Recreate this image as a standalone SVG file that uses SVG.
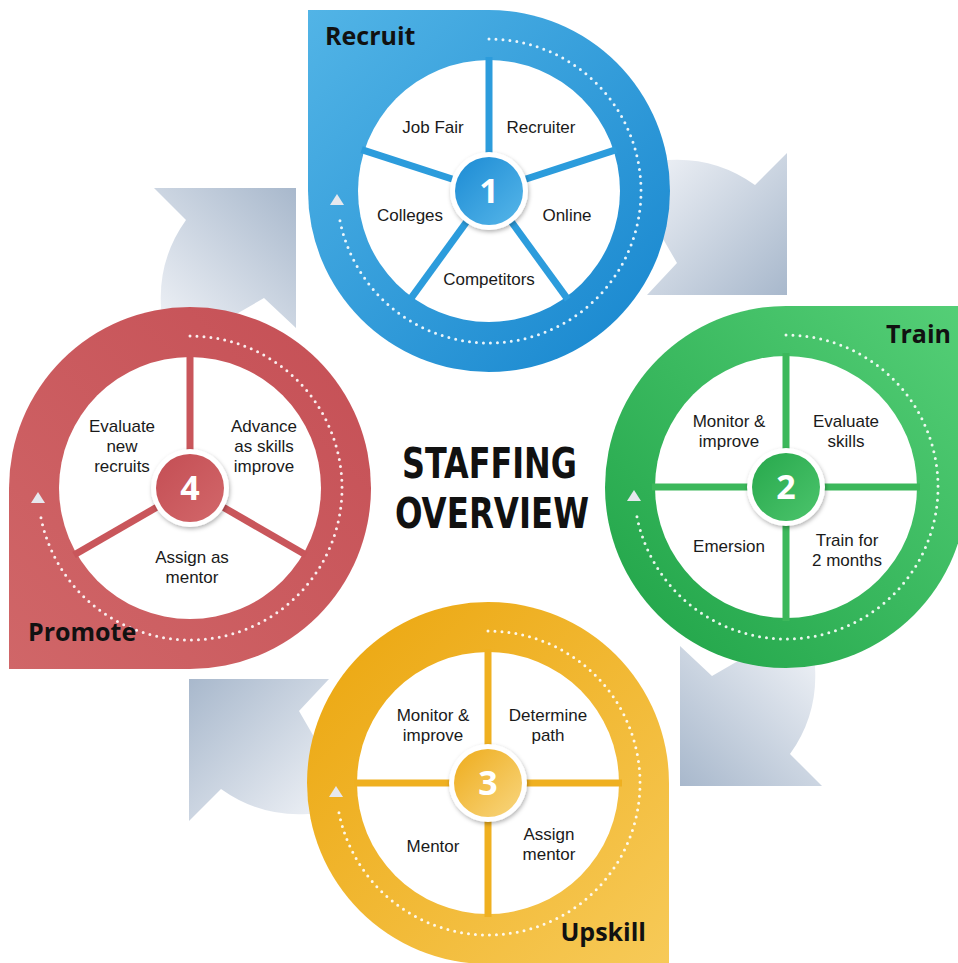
<svg xmlns="http://www.w3.org/2000/svg" xmlns:xlink="http://www.w3.org/1999/xlink" width="958" height="963" viewBox="0 0 958 963">
<defs>
<linearGradient id="gGray" gradientUnits="userSpaceOnUse" x1="650" y1="160" x2="787" y2="295">
<stop offset="0" stop-color="#eef1f6"/><stop offset="1" stop-color="#a8b8cc"/>
</linearGradient>
<linearGradient id="gBlue" x1="0" y1="0" x2="1" y2="1">
<stop offset="0" stop-color="#52b4e6"/><stop offset="1" stop-color="#1585ce"/>
</linearGradient>
<linearGradient id="gGreen" x1="1" y1="0" x2="0" y2="1">
<stop offset="0" stop-color="#55cf77"/><stop offset="1" stop-color="#1ea246"/>
</linearGradient>
<linearGradient id="gYellow" x1="0" y1="0" x2="1" y2="1">
<stop offset="0" stop-color="#eba50c"/><stop offset="1" stop-color="#f7ca58"/>
</linearGradient>
<linearGradient id="gRed" x1="1" y1="0" x2="0" y2="1">
<stop offset="0" stop-color="#c54f55"/><stop offset="1" stop-color="#d06668"/>
</linearGradient>
<linearGradient id="cBlue" x1="0" y1="0" x2="1" y2="1">
<stop offset="0" stop-color="#1c8bd4"/><stop offset="1" stop-color="#56b6e9"/>
</linearGradient>
<linearGradient id="cGreen" x1="0" y1="0" x2="1" y2="1">
<stop offset="0" stop-color="#27a84c"/><stop offset="1" stop-color="#4cc46c"/>
</linearGradient>
<linearGradient id="cYellow" x1="0" y1="0" x2="1" y2="1">
<stop offset="0" stop-color="#eeac1c"/><stop offset="1" stop-color="#f8d67f"/>
</linearGradient>
<linearGradient id="cRed" x1="0" y1="0" x2="1" y2="1">
<stop offset="0" stop-color="#c44e54"/><stop offset="1" stop-color="#d2676a"/>
</linearGradient>
<filter id="sh" x="-30%" y="-30%" width="160%" height="160%">
<feDropShadow dx="1" dy="2" stdDeviation="2" flood-color="#000" flood-opacity="0.3"/>
</filter>
<path id="garrow" d="M 787 153 L 787 295 L 647 295 L 677 263 L 655 225 L 630 170 L 640 158 L 668 160 A 135 135 0 0 1 755 185 Z" fill="url(#gGray)"/>
<style>
.t{font-family:"Liberation Sans",Arial,sans-serif;font-size:17px;fill:#1a1a1a;text-anchor:middle}
.lbl{font-family:"Open Sans","Noto Sans",sans-serif;font-size:25px;font-weight:bold;fill:#111}
.num{font-family:"Open Sans","Noto Sans",sans-serif;font-size:34px;font-weight:bold;fill:#fff;text-anchor:middle}
.dots{fill:none;stroke:#fff;stroke-width:3;stroke-dasharray:0 7;stroke-linecap:round;opacity:0.9}
.tri{fill:#e6e8ee}
.disk{fill:#fff}
.ring{fill:#fff}
.title{font-family:"DejaVu Sans Condensed","DejaVu Sans",sans-serif;font-weight:bold;font-size:42.5px;fill:#111;text-anchor:middle}
</style>
</defs>

<g id="connectors">
<use xlink:href="#garrow"/>
<use xlink:href="#garrow" transform="rotate(90 488 487)"/>
<use xlink:href="#garrow" transform="rotate(180 488 487)"/>
<use xlink:href="#garrow" transform="rotate(270 488 487)"/>
</g>

<g id="node-recruit">
<path d="M 308 10 L 489 10 A 181 181 0 1 1 308 191 Z" fill="url(#gBlue)"/>
<path class="dots" d="M 489 39 A 152 152 0 1 1 338.9 214.8"/>
<polygon class="tri" points="337,194 330,205 344,205"/>
<circle class="disk" cx="489" cy="191" r="131"/>
<g stroke="#2c9cdc" stroke-width="7">
<line x1="489" y1="191" x2="489" y2="57"/>
<line x1="489" y1="191" x2="616.4" y2="149.6"/>
<line x1="489" y1="191" x2="567.8" y2="299.4"/>
<line x1="489" y1="191" x2="410.2" y2="299.4"/>
<line x1="489" y1="191" x2="361.6" y2="149.6"/>
</g>
<circle class="ring" cx="489" cy="191" r="39" filter="url(#sh)"/>
<circle cx="489" cy="191" r="34" fill="url(#cBlue)"/>
<text class="num" x="489" y="203">1</text>
<text class="lbl" x="325" y="45">Recruit</text>
<text class="t" x="433" y="133">Job Fair</text>
<text class="t" x="541" y="133">Recruiter</text>
<text class="t" x="410" y="221">Colleges</text>
<text class="t" x="567" y="221">Online</text>
<text class="t" x="489" y="285">Competitors</text>
</g>

<g id="node-train">
<path d="M 967 306 L 967 487 A 181 181 0 1 1 786 306 Z" fill="url(#gGreen)"/>
<path class="dots" d="M 786 335 A 152 152 0 1 1 635.9 510.8"/>
<polygon class="tri" points="634,490 627,501 641,501"/>
<circle class="disk" cx="786" cy="487" r="131"/>
<g stroke="#3cb85b" stroke-width="7">
<line x1="786" y1="353" x2="786" y2="621"/>
<line x1="652" y1="487" x2="920" y2="487"/>
</g>
<circle class="ring" cx="786" cy="487" r="39" filter="url(#sh)"/>
<circle cx="786" cy="487" r="34" fill="url(#cGreen)"/>
<text class="num" x="786" y="499">2</text>
<text class="lbl" x="951" y="343" text-anchor="end">Train</text>
<text class="t" x="729" y="427">Monitor &amp;</text>
<text class="t" x="729" y="447">improve</text>
<text class="t" x="846" y="427">Evaluate</text>
<text class="t" x="846" y="447">skills</text>
<text class="t" x="729" y="552">Emersion</text>
<text class="t" x="847" y="546">Train for</text>
<text class="t" x="847" y="566">2 months</text>
</g>

<g id="node-upskill">
<path d="M 669 964 L 488 964 A 181 181 0 1 1 669 783 Z" fill="url(#gYellow)"/>
<path class="dots" d="M 488 631 A 152 152 0 1 1 337.9 806.8"/>
<polygon class="tri" points="336,786 329,797 343,797"/>
<circle class="disk" cx="488" cy="783" r="131"/>
<g stroke="#efb020" stroke-width="7">
<line x1="488" y1="649" x2="488" y2="917"/>
<line x1="354" y1="783" x2="622" y2="783"/>
</g>
<circle class="ring" cx="488" cy="783" r="39" filter="url(#sh)"/>
<circle cx="488" cy="783" r="34" fill="url(#cYellow)"/>
<text class="num" x="488" y="795">3</text>
<text class="lbl" x="646" y="941" text-anchor="end">Upskill</text>
<text class="t" x="433" y="721">Monitor &amp;</text>
<text class="t" x="433" y="741">improve</text>
<text class="t" x="548" y="721">Determine</text>
<text class="t" x="548" y="741">path</text>
<text class="t" x="433" y="852">Mentor</text>
<text class="t" x="549" y="840">Assign</text>
<text class="t" x="549" y="860">mentor</text>
</g>

<g id="node-promote">
<path d="M 9 669 L 9 488 A 181 181 0 1 1 190 669 Z" fill="url(#gRed)"/>
<path class="dots" d="M 190 336 A 152 152 0 1 1 39.9 511.8"/>
<polygon class="tri" points="38,492 31,503 45,503"/>
<circle class="disk" cx="190" cy="488" r="131"/>
<g stroke="#c9565b" stroke-width="7">
<line x1="190" y1="488" x2="190" y2="354"/>
<line x1="190" y1="488" x2="306" y2="555"/>
<line x1="190" y1="488" x2="74" y2="555"/>
</g>
<circle class="ring" cx="190" cy="488" r="39" filter="url(#sh)"/>
<circle cx="190" cy="488" r="34" fill="url(#cRed)"/>
<text class="num" x="190" y="500">4</text>
<text class="lbl" x="28" y="641">Promote</text>
<text class="t" x="122" y="432">Evaluate</text>
<text class="t" x="122" y="452">new</text>
<text class="t" x="122" y="472">recruits</text>
<text class="t" x="264" y="432">Advance</text>
<text class="t" x="264" y="452">as skills</text>
<text class="t" x="264" y="472">improve</text>
<text class="t" x="192" y="563">Assign as</text>
<text class="t" x="192" y="583">mentor</text>
</g>

<g id="title">
<text class="title" x="489.5" y="478" textLength="175" lengthAdjust="spacingAndGlyphs">STAFFING</text>
<text class="title" x="492" y="528" textLength="194" lengthAdjust="spacingAndGlyphs">OVERVIEW</text>
</g>
</svg>
